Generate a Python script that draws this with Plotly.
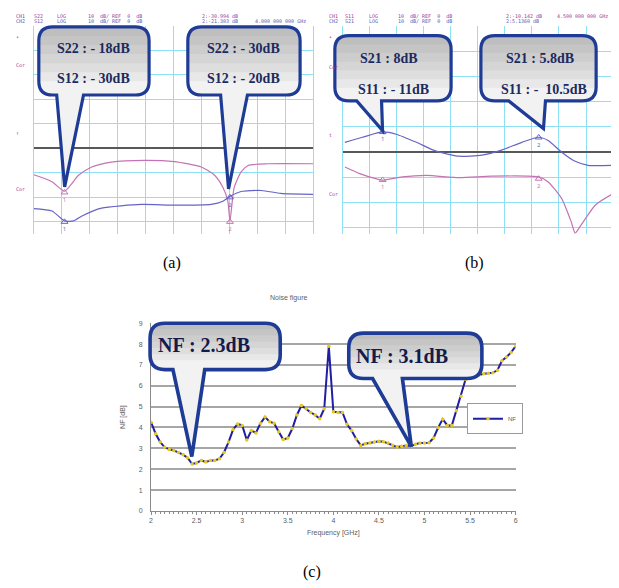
import plotly.graph_objects as go

W, H = 619, 588
OFF = 8  # browser body margin
FW, FH = W - OFF, H - OFF

# ---------------- data ----------------
# (a) S22 / S12 [dB] vs frequency [GHz]
a_freq_s22 = [2.0, 2.26, 2.44, 2.64, 2.83, 3.11, 3.59, 4.01, 4.4, 4.59, 4.71, 4.78, 4.81, 4.87, 4.97, 5.07, 5.35, 6.0]
a_s22 = [-10.8, -13.6, -17.5, -11.0, -7.6, -5.6, -4.9, -5.4, -7.6, -11.0, -16.0, -21.6, -29.6, -16.0, -9.6, -7.0, -6.3, -6.3]
a_freq_s12 = [2.0, 2.26, 2.44, 2.57, 2.69, 2.97, 3.54, 4.01, 4.54, 4.71, 4.81, 4.97, 5.26, 5.54, 6.0]
a_s12 = [-24.6, -25.6, -29.6, -29.6, -27.6, -24.4, -22.9, -23.2, -22.9, -21.6, -19.6, -17.6, -17.2, -18.4, -18.8]
a_mk_freq = [2.44, 4.81]
a_mk_s22 = [-18, -30]
a_mk_s12 = [-30, -20]

# (b) S21 / S11 [dB] vs frequency [GHz]
b_freq_s21 = [2.03, 2.29, 2.59, 2.79, 3.09, 3.38, 3.72, 4.06, 4.35, 4.65, 4.9, 5.04, 5.24, 5.44, 5.63, 6.0]
b_s21 = [3.9, 5.9, 8.0, 7.1, 3.9, 0.4, -1.6, -1.2, 0.8, 3.9, 5.9, 4.6, 0.0, -3.6, -5.2, -5.2]
b_freq_s11 = [2.03, 2.25, 2.5, 2.59, 2.88, 3.24, 3.72, 4.2, 4.9, 5.04, 5.24, 5.38, 5.44, 5.53, 5.74, 6.0]
b_s11 = [-5.9, -8.5, -10.6, -11.1, -9.8, -9.2, -10.1, -9.5, -9.8, -11.8, -18.4, -27.5, -32.0, -28.7, -20.9, -16.4]
b_mk_freq = [2.59, 4.9]
b_mk_s21 = [8, 5.8]
b_mk_s11 = [-11, -10.5]

# (c) Noise figure
nf_freq = [2.00, 2.05, 2.10, 2.15, 2.20, 2.25, 2.30, 2.35, 2.40, 2.45,
           2.50, 2.55, 2.60, 2.65, 2.70, 2.75, 2.80, 2.85, 2.90, 2.95,
           3.00, 3.05, 3.10, 3.15, 3.20, 3.25, 3.30, 3.35, 3.40, 3.45,
           3.50, 3.55, 3.60, 3.65, 3.70, 3.75, 3.80, 3.85, 3.90, 3.95,
           4.00, 4.05, 4.10, 4.15, 4.20, 4.25, 4.30, 4.35, 4.40, 4.45,
           4.50, 4.55, 4.60, 4.65, 4.70, 4.75, 4.80, 4.85, 4.90, 4.95,
           5.00, 5.05, 5.10, 5.15, 5.20, 5.25, 5.30, 5.35, 5.40, 5.45,
           5.50, 5.55, 5.60, 5.65, 5.70, 5.75, 5.80, 5.85, 5.90, 5.95, 6.00]
nf_db = [4.25, 3.7, 3.3, 3.05, 2.95, 2.9, 2.8, 2.7, 2.55, 2.25,
         2.3, 2.42, 2.35, 2.42, 2.42, 2.5, 2.8, 3.3, 3.9, 4.17,
         4.1, 3.4, 3.85, 3.74, 4.2, 4.5, 4.28, 4.2, 3.8, 3.42,
         3.5, 3.95, 4.6, 5.05, 4.9, 4.72, 4.6, 4.42, 4.9, 7.9,
         4.75, 4.72, 4.72, 4.15, 3.85, 3.45, 3.14, 3.22, 3.26, 3.3,
         3.34, 3.32, 3.25, 3.15, 3.06, 3.1, 3.14, 3.1, 3.2, 3.25,
         3.25, 3.27, 3.5, 4.0, 4.4, 4.1, 4.1, 4.8, 5.5, 6.3,
         6.4, 6.47, 6.52, 6.58, 6.6, 6.62, 6.75, 7.2, 7.38, 7.6, 7.9]
nf_xticks = [2, 2.5, 3, 3.5, 4, 4.5, 5, 5.5, 6]
nf_xticktext = ["2", "2.5", "3", "3.5", "4", "4.5", "5", "5.5", "6"]

# ---------------- helpers (window pixel -> paper) ----------------
def px(x):
    return (x - OFF) / FW

def py(y):
    return 1 - (y - OFF) / FH

PINK = "#c474b4"
BLUE = "#6464c8"
GRID = "#8ee0f4"
NAVY = "#1e3c96"

fig = go.Figure()

# panel (a)
fig.add_trace(go.Scatter(x=a_freq_s22, y=a_s22, mode="lines", line=dict(color=PINK, width=1.2, shape="spline", smoothing=0.6),
                         xaxis="x", yaxis="y", showlegend=False))
fig.add_trace(go.Scatter(x=a_freq_s12, y=a_s12, mode="lines", line=dict(color=BLUE, width=1.2, shape="spline", smoothing=0.6),
                         xaxis="x", yaxis="y", showlegend=False))
fig.add_trace(go.Scatter(x=a_mk_freq, y=a_mk_s22, mode="markers+text", text=["1", "2"], textposition="bottom center",
                         textfont=dict(size=6, color=PINK), marker=dict(symbol="triangle-up-open", size=6, color=PINK),
                         xaxis="x", yaxis="y", showlegend=False))
fig.add_trace(go.Scatter(x=a_mk_freq, y=a_mk_s12, mode="markers+text", text=["1", "2"], textposition="bottom center",
                         textfont=dict(size=6, color=BLUE), marker=dict(symbol="triangle-up-open", size=6, color=BLUE),
                         xaxis="x", yaxis="y", showlegend=False))
# panel (b)
fig.add_trace(go.Scatter(x=b_freq_s21, y=b_s21, mode="lines", line=dict(color=BLUE, width=1.2, shape="spline", smoothing=0.6),
                         xaxis="x2", yaxis="y2", showlegend=False))
fig.add_trace(go.Scatter(x=b_freq_s11, y=b_s11, mode="lines", line=dict(color=PINK, width=1.2, shape="spline", smoothing=0.6),
                         xaxis="x2", yaxis="y2", showlegend=False))
fig.add_trace(go.Scatter(x=b_mk_freq, y=b_mk_s21, mode="markers+text", text=["1", "2"], textposition="bottom center",
                         textfont=dict(size=6, color=BLUE), marker=dict(symbol="triangle-up-open", size=6, color=BLUE),
                         xaxis="x2", yaxis="y2", showlegend=False))
fig.add_trace(go.Scatter(x=b_mk_freq, y=b_mk_s11, mode="markers+text", text=["1", "2"], textposition="bottom center",
                         textfont=dict(size=6, color=PINK), marker=dict(symbol="triangle-up-open", size=6, color=PINK),
                         xaxis="x2", yaxis="y2", showlegend=False))
# panel (c)
fig.add_trace(go.Scatter(x=nf_freq, y=nf_db, mode="lines+markers", name="NF",
                         line=dict(color="#1f1fa0", width=2), marker=dict(color="#e8c81e", size=3.5),
                         xaxis="x3", yaxis="y3", showlegend=True))

vna_x = dict(range=[2, 6], dtick=0.4, tick0=2, showgrid=True, gridcolor=GRID, gridwidth=1,
             showticklabels=False, ticks="", zeroline=False, showline=False, fixedrange=True)
vna_y = dict(dtick=10, tick0=0, showgrid=True, gridcolor=GRID, gridwidth=1, showticklabels=False, ticks="",
             zeroline=True, zerolinecolor="#585858", zerolinewidth=1.5, showline=True, linecolor=GRID, mirror=True)

fig.update_layout(
    width=FW, height=FH, margin=dict(l=0, r=0, t=0, b=0),
    paper_bgcolor="white", plot_bgcolor="white",
    xaxis=dict(domain=[px(32), px(313)], anchor="y", **vna_x),
    yaxis=dict(domain=[py(233), py(22)], range=[-35.08, 50], anchor="x", **vna_y),
    xaxis2=dict(domain=[px(343), px(615)], anchor="y2", **vna_x),
    yaxis2=dict(domain=[py(233), py(22)], range=[-32.5, 50], anchor="x2", **vna_y),
    xaxis3=dict(domain=[px(150), px(517)], anchor="y3", range=[2, 6], tickvals=nf_xticks, ticktext=nf_xticktext,
                showgrid=False, zeroline=False, showline=True, linecolor="#8a8a8a", linewidth=1,
                ticks="outside", ticklen=3, tickcolor="#8a8a8a",
                minor=dict(dtick=0.05, ticks="outside", ticklen=2, tickcolor="#8a8a8a"),
                tickfont=dict(family="Liberation Sans", size=7, color="#606060"),
                title=dict(text="Frequency [GHz]", font=dict(family="Liberation Sans", size=7, color="#606060"), standoff=6)),
    yaxis3=dict(domain=[py(513), py(323)], anchor="x3", range=[0, 9], dtick=1, showgrid=True, gridcolor="#a6a6a6",
                gridwidth=2, zeroline=False, showline=True, linecolor="#8a8a8a", ticks="", ticklabelstandoff=6,
                tickfont=dict(family="Liberation Sans", size=7, color="#606060"),
                title=dict(text="NF [dB]", font=dict(family="Liberation Sans", size=7, color="#606060"), standoff=12)),
    legend=dict(x=px(468), y=py(404), xanchor="left", yanchor="top", bgcolor="white", bordercolor="#9a9a9a",
                borderwidth=1, font=dict(family="Liberation Sans", size=6, color="#606060"), itemwidth=30,
                tracegroupgap=0),
)

# ---------------- callouts ----------------
def callout_path(x0, y0, x1, y1, r, xl, xr, tx, ty):
    X = px
    Y = py
    return (f"M {X(x0+r)},{Y(y0)} L {X(x1-r)},{Y(y0)} Q {X(x1)},{Y(y0)} {X(x1)},{Y(y0+r)} "
            f"L {X(x1)},{Y(y1-r)} Q {X(x1)},{Y(y1)} {X(x1-r)},{Y(y1)} "
            f"L {X(xr)},{Y(y1)} L {X(tx)},{Y(ty)} L {X(xl)},{Y(y1)} "
            f"L {X(x0+r)},{Y(y1)} Q {X(x0)},{Y(y1)} {X(x0)},{Y(y1-r)} "
            f"L {X(x0)},{Y(y0+r)} Q {X(x0)},{Y(y0)} {X(x0+r)},{Y(y0)} Z")

def band_path(x0, y0, x1, yb, r):
    X = px
    Y = py
    return (f"M {X(x0)},{Y(yb)} L {X(x0)},{Y(y0+r)} Q {X(x0)},{Y(y0)} {X(x0+r)},{Y(y0)} "
            f"L {X(x1-r)},{Y(y0)} Q {X(x1)},{Y(y0)} {X(x1)},{Y(y0+r)} L {X(x1)},{Y(yb)} Z")

shapes = []
def add_callout(x0, y0, x1, y1, xl, xr, tx, ty, r=14, lw=3.2):
    shapes.append(dict(type="path", xref="paper", yref="paper", path=callout_path(x0, y0, x1, y1, r, xl, xr, tx, ty),
                       fillcolor="#f2f2f2", line=dict(width=0), layer="above"))
    nb = 6
    for k in range(1, nb + 1):
        yb = y0 + (y1 - y0) * k / (nb + 1.5)
        shapes.append(dict(type="path", xref="paper", yref="paper", path=band_path(x0, y0, x1, yb, r),
                           fillcolor="rgba(110,110,110,0.075)", line=dict(width=0), layer="above"))
    shapes.append(dict(type="path", xref="paper", yref="paper", path=callout_path(x0, y0, x1, y1, r, xl, xr, tx, ty),
                       fillcolor="rgba(0,0,0,0)", line=dict(color=NAVY, width=lw), layer="above"))

add_callout(37, 23, 148, 92, 55, 82, 63, 185)
add_callout(187, 23, 300, 92, 220, 247, 228, 187)
add_callout(335, 32, 452, 98, 357, 382, 383, 128)
add_callout(482, 32, 598, 98, 510, 547, 545, 126)
add_callout(149, 323, 280, 370, 172, 204, 191, 458, r=15, lw=3.6)
add_callout(349, 333, 483, 379, 373, 403, 412, 448, r=15, lw=3.6)
fig.update_layout(shapes=shapes)

ann = []
def txt(x, y, s, size, color, family="Liberation Serif", xanchor="center", bold=False):
    ann.append(dict(x=px(x), y=py(y), xref="paper", yref="paper", text=(f"<b>{s}</b>" if bold else s),
                    showarrow=False, xanchor=xanchor, yanchor="middle",
                    font=dict(family=family, size=size, color=color)))

TXT = "#1c2a5e"
txt(92, 45, "S22 : - 18dB", 14, TXT, bold=True)
txt(92, 75, "S12 : - 30dB", 14, TXT, bold=True)
txt(243, 45, "S22 : - 30dB", 14, TXT, bold=True)
txt(243, 75, "S12 : - 20dB", 14, TXT, bold=True)
txt(389, 55, "S21 : 8dB", 14, TXT, bold=True)
txt(394, 86, "S11 : - 11dB", 14, TXT, bold=True)
txt(541, 55, "S21 : 5.8dB", 14, TXT, bold=True)
txt(546, 86, "S11 : -  10.5dB", 14, TXT, bold=True)
txt(203, 345, "NF : 2.3dB", 20, "#141a4a", bold=True)
txt(403, 356, "NF : 3.1dB", 20, "#141a4a", bold=True)

# instrument header text
MONO = "DejaVu Sans Mono"
P1, P2 = "#a0409a", "#5a5ab8"
for (x, y, s, c) in [(12, 12, "CH1", P1), (30, 12, "S22", P1), (53, 12, "LOG", P1), (85, 12, "10  dB/ REF  0  dB", P1),
                     (199, 12, "2:-30.994 dB", P1),
                     (12, 17, "CH2", P2), (30, 17, "S12", P2), (53, 17, "LOG", P2), (85, 17, "10  dB/ REF  0  dB", P2),
                     (199, 17, "2:-21.303 dB", P2), (253, 17, "4.000 000 000 GHz", P2),
                     (327, 12, "CH1", P1), (343, 12, "S11", P1), (367, 12, "LOG", P1), (397, 12, "10  dB/ REF  0  dB", P1),
                     (505, 12, "2:-10.142 dB", P1), (557, 12, "4.500 000 000 GHz", P1),
                     (327, 17, "CH2", P2), (343, 17, "S21", P2), (367, 17, "LOG", P2), (397, 17, "10  dB/ REF  0  dB", P2),
                     (505, 17, "2:5.1360 dB", P2)]:
    txt(x, y, s, 5, c, family=MONO, xanchor="left")
for (x, y, s) in [(12, 33, "•"), (12, 62, "Cor"), (12, 130, "↑"), (12, 187, "Cor"),
                  (327, 33, "•"), (327, 64, "Cor"), (327, 133, "t"), (327, 192, "Cor")]:
    txt(x, y, s, 5, P1, family=MONO, xanchor="left")

txt(288, 297, "Noise figure", 7, "#606060", family="Liberation Sans")
txt(171, 262, "(a)", 16, "black")
txt(476, 262, "(b)", 16, "black")
txt(312, 575, "(c)", 16, "black")
fig.update_layout(annotations=ann)

fig.write_html("out.html")
